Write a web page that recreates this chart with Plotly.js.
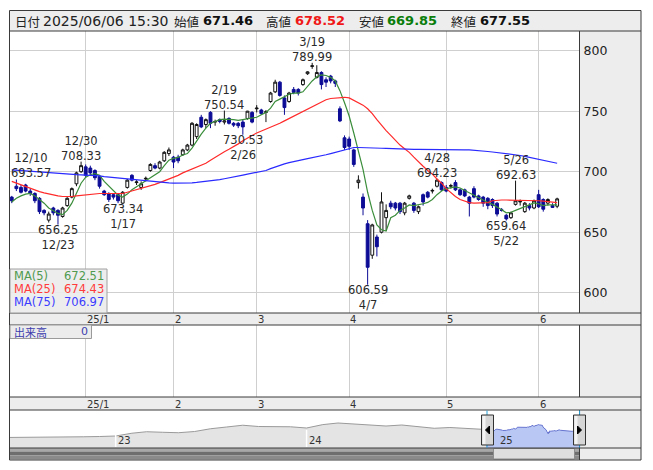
<!DOCTYPE html>
<html><head><meta charset="utf-8">
<script src="https://cdn.plot.ly/plotly-3.0.1.min.js"></script>
<style>html,body{margin:0;padding:0;background:#fff}#chart{width:653px;height:470px}</style>
</head><body><div id="chart"></div>
<script>
// ---------------- data ----------------
const dates = [
'2024-12-09','2024-12-10','2024-12-11','2024-12-12','2024-12-13','2024-12-16','2024-12-17','2024-12-18','2024-12-19','2024-12-20',
'2024-12-23','2024-12-24','2024-12-25','2024-12-26','2024-12-27','2024-12-30',
'2025-01-06','2025-01-07','2025-01-08','2025-01-09','2025-01-10','2025-01-14','2025-01-15','2025-01-16','2025-01-17','2025-01-20',
'2025-01-21','2025-01-22','2025-01-23','2025-01-24','2025-01-27','2025-01-28','2025-01-29','2025-01-30','2025-01-31',
'2025-02-03','2025-02-04','2025-02-05','2025-02-06','2025-02-07','2025-02-10','2025-02-12','2025-02-13','2025-02-14','2025-02-17',
'2025-02-18','2025-02-19','2025-02-20','2025-02-21','2025-02-25','2025-02-26','2025-02-27','2025-02-28',
'2025-03-03','2025-03-04','2025-03-05','2025-03-06','2025-03-07','2025-03-10','2025-03-11','2025-03-12','2025-03-13','2025-03-14',
'2025-03-17','2025-03-18','2025-03-19','2025-03-21','2025-03-24','2025-03-25','2025-03-26','2025-03-27','2025-03-28','2025-03-31',
'2025-04-01','2025-04-02','2025-04-03','2025-04-04','2025-04-07','2025-04-08','2025-04-09','2025-04-10','2025-04-11','2025-04-14',
'2025-04-15','2025-04-16','2025-04-17','2025-04-18','2025-04-21','2025-04-22','2025-04-23','2025-04-24','2025-04-25','2025-04-28','2025-04-30',
'2025-05-01','2025-05-02','2025-05-07','2025-05-08','2025-05-09','2025-05-12','2025-05-13','2025-05-14','2025-05-15','2025-05-16',
'2025-05-19','2025-05-20','2025-05-21','2025-05-22','2025-05-23','2025-05-26','2025-05-27','2025-05-28','2025-05-29','2025-05-30',
'2025-06-02','2025-06-03','2025-06-04','2025-06-05','2025-06-06'];

const open = [679,688,687,689,684,682,678,668,660,670, 668,663,672,679,690,700,704,703,701,696,
684,682,681,681,674,687,697,691,687,694, 701,705,703,709,715,712,712,714,718,722,
729,745,739,749,741,743,741,744,740,740, 741,744,749,752,751,749,758,766,774,761,
758,768,768,772,781,787,778,782,776,779, 775,752,728,727,718,691,679,657,631,646,
650,662,674,674,674,666,678,674,667,681, 683,684,688,691,687,688,691,685,685,679,
686,680,679,678,677,674,668.5,664,662,673, 675,667,672,670,681,677,674,672,671.46];
const high = [680,693.57,689,690,686,683,679,669,667,671, 669,671,679,687,700,708.33,706,705,702,697,
685,683,682,682,684,694,698,693,692,696, 707,707,709,717,720,713,714,719,723,741,
740,747,744,750,743,744,750.54,745,741,741, 743,750.3,750,755,752,751,766,776,775,763,
766,770,769,777,783,789.99,788,783,778,780, 776,754,730,729,719,697,682,660,657,648,
683,673,676,675,675,675,681,675,672,682, 684,686,694.23,692,689,690,693,686,686,680,
688,681,680,679,678,675,670,665,667,692.63, 677,675,674,677,685,678,678,674,678.52];
const low = [674,684,682,683,680,674,665,664,658,664, 656.25,662,671,678,688,699,695,697,693,686,
680,675,677,674,673.34,686,692,689,685,692, 700,702,702,708,713,703,707,713,717,721,
727,736,736,736,738,740,739,739,737,736, 730.53,743,740,749,747,741,757,765,762,747,
757,764,763,771,780,785,777,768,770,773, 770,741,718,718,704,686,664,606.59,628,630,
649,651,669,668,665,664,677,666,665,672, 678,682,687,684,683,686,684,680,679,663,
678,676,671,669,670,663,667,659.64,661,672, 672,666,668,669,670,667,672,670,669.85];
const close = [676,686,683,684,682,676,667,666,665,666, 664,670,678,686,699,705,697,699,695,688,
681,677,679,676,683,693,693,691.5,690,694.5, 706,703,708,716,718,708,709,718,722,740,
739,737,743,740,741.5,741.5,742,740,738.5,738, 737,750,741,752.5,748,749.5,765,774,763,753,
765,765.5,765,776,782.5,787.5,782,772,774,775, 773,742,720,721,706,693,670,621,656,638,
675,668,671,670,667,674,680,668,671,675, 679,684.5,693,685,684,688.5,685,681,680,674,
679,677,674,672,672,665,668,661,666,676, 675.5,674,670,676,671,669,677,670.5,677.55];

const ma5 = [675,678,680,681.5,682,680,677,674,670,668, 665.5,664.5,668,674,683,690.5,695.5,697.5,698.5,697,
692,688,684,680.5,679,681.5,685,687.5,690,692.5, 695,697,700,705,709.5,711,711.8,713.8,715,719.5,
725.6,731,736,740,741.5,743,743.5,743.5,743,742.5, 743,744,744,745,747,749,752.5,758,760,762,
764,765,765,766,771,775,778.5,780,779.5,778, 775,767,757,746,732,716,702,683,668,656,
652,651,662,664,668,670,672.5,672,672.5,673.5, 674.6,677,681,684,686,687,687.5,686.5,684.5,682.5,
680,678,676.5,674.5,673,671,668.5,666,666.5,668, 669.5,671,672.5,674.2,673.5,672,672.5,672.8,672.51];
const ma25 = [692,690.5,689,688,686,685,683.5,682.5,681.5,680.5, 680,679.5,679.3,679.5,680,680.5,681,681.5,682,682,
682,682,682,682,682,683,684,685,686,687, 688,689.5,691,692.5,694,695,697,699,700.5,702,
703.5,705,707,709.5,712,714,716.5,718.5,720.5,723, 725.5,728,730,732,733.5,735,736.5,738,740,742,
744,746,748,750,752,754,756,758,759.5,760.5, 761,761.5,761.5,761,759,757,755,752,748,743,
738,734,730,726,722,719,716,712,708,704.5, 701,698,694,690.5,686,682.5,679.5,677,675.5,674.5,
674,674,674,674.5,676,676.5,676.6,676.6,676.6,676.6, 676.6,676.6,676.5,676.4,676,675.7,675.3,675,674.43];
const ma75 = [701.5,701.2,700.9,700.6,700.2,699.9,699.6,699.2,698.8,698.5, 698.2,698,697.8,697.6,697.5,697.4,697.3,697.2,697,696.5,
696,695.6,695.2,694.8,694.3,693.9,693.5,693,692.6,692.2, 691.8,691.5,691.2,691,690.8,690.6,690.5,690.5,690.6,690.8,
691.1,691.5,692,692.5,693,693.5,694.2,694.8,695.5,696.3, 697.2,698,698.6,699.3,700,701,702.5,704,705.5,706.5,
707.5,708.5,709.3,710,710.8,711.5,712.2,713,714,715, 716,717.5,718.5,719.5,720,720,720,720,719.8,719.6,
719.4,719.2,719,718.9,718.8,718.7,718.6,718.5,718.5,718.4, 718.3,718.3,718.2,718.2,718.1,718.1,718,718,718,718,
717.8,717.5,717,716.7,716.3,715.9,715.5,715,714.6,714.1, 713.4,712.6,711.8,711,710.2,709.4,708.6,707.8,706.97];

const monthTicks = ['2025-01-06','2025-02-03','2025-03-03','2025-04-01','2025-05-01','2025-06-02'];
const monthLabels = ['25/1','2','3','4','5','6'];
const priceTicks = [600,650,700,750,800];

const markDates  = ['2024-12-10','2024-12-23','2024-12-30','2025-01-17','2025-02-19','2025-02-26','2025-03-19','2025-04-07','2025-04-28','2025-05-22','2025-05-26'];
const markValues = [693.57,656.25,708.33,673.34,750.54,730.53,789.99,606.59,694.23,659.64,692.63];
const markKinds  = ['high','low','high','low','high','low','high','low','high','low','high'];

const maNames = ['MA(5)','MA(25)','MA(75)'];
const maLast  = [672.51,674.43,706.97];

const infoDate = '2025/06/06 15:30';
const infoLabels = ['始値','高値','安値','終値'];
const infoValues = [671.46,678.52,669.85,677.55];
const volumeLabel = '出来高';
const volumeLast = 0;

const navDates = ['2022-06-01','2022-07-01','2022-08-01','2022-09-01','2022-10-01','2022-11-01','2022-12-01',
'2023-01-01','2023-02-01','2023-03-01','2023-04-01','2023-05-01','2023-06-01','2023-07-01','2023-08-01','2023-09-01','2023-10-01','2023-11-01','2023-12-01',
'2024-01-01','2024-02-01','2024-03-01','2024-04-01','2024-05-01','2024-06-01','2024-07-01','2024-08-01','2024-09-01','2024-10-01','2024-11-01','2024-12-01','2024-12-09'];
const navValues = [555,555,555,560,564,568,573, 582,632,659,649,641,663,712,744,776,753,753,748,
726,787,816,798,771,762,780,744,721,735,717,703,676];
const yearLabels = ['23','24','25'];
const yearStarts = ['2023-01-01','2024-01-01','2025-01-01'];

// ---------------- layout helpers ----------------
const W = 653, H = 470;
const PX = x => x / W;
const PY = y => 1 - y / H;
const FONT = 'DejaVu Sans, Verdana, sans-serif';
const JFONT = 'Noto Sans CJK JP, sans-serif';
const L = 10, R = 579.5;                 // plot left/right in px
const step = 4.622;                      // px per trading day
const i0 = 16 - (85.7 - L) / step;       // category position of left edge
const i1 = i0 + (R - L) / step;
const yTop = 31, yBot = 313;
const pxPer = 1.21;                      // px per price unit
const yMax = 800 + (50.7 - yTop) / pxPer, yMin = 800 - (yBot - 50.7) / pxPer;
const GRID = '#cfcfcf';

const traces = [];
traces.push({
  type: 'candlestick', x: dates, open: open, high: high, low: low, close: close,
  xaxis: 'x', yaxis: 'y', whiskerwidth: 0, hoverinfo: 'skip', showlegend: false,
  increasing: {line: {color: '#111', width: 1}, fillcolor: '#ffffff'},
  decreasing: {line: {color: '#0c0c96', width: 1}, fillcolor: '#0c0c96'}
});
const maColors = ['#3a8d3a', '#ff2a2a', '#2a2aff'];
[ma5, ma25, ma75].forEach((m, k) => traces.push({
  type: 'scatter', mode: 'lines', x: dates, y: m, xaxis: 'x', yaxis: 'y',
  line: {color: maColors[k], width: 1.2}, hoverinfo: 'skip', showlegend: false
}));
// volume panel placeholder (empty panel)
traces.push({type: 'scatter', mode: 'markers', x: dates, y: dates.map(() => null), xaxis: 'x2', yaxis: 'y2',
  marker: {opacity: 0}, hoverinfo: 'skip', showlegend: false});
// navigator
traces.push({type: 'scatter', mode: 'lines', x: navDates, y: navValues, xaxis: 'x3', yaxis: 'y3',
  fill: 'tozeroy', fillcolor: '#e4e4e4', line: {color: '#9a9a9a', width: 1}, hoverinfo: 'skip', showlegend: false});
traces.push({type: 'scatter', mode: 'lines', x: dates, y: close, xaxis: 'x3', yaxis: 'y3',
  fill: 'tozeroy', fillcolor: '#b9c7f4', line: {color: '#6674cf', width: 1}, hoverinfo: 'skip', showlegend: false});

// ---------------- shapes ----------------
const shapes = [];
function rect(x0, y0, x1, y1, fill, line, layer, lw) {
  shapes.push({type: 'rect', xref: 'paper', yref: 'paper', x0: PX(x0), x1: PX(x1), y0: PY(y1), y1: PY(y0),
    fillcolor: fill || 'rgba(0,0,0,0)', line: {color: line || 'rgba(0,0,0,0)', width: lw === undefined ? 1 : lw}, layer: layer || 'below'});
}
function hline(x0, x1, y, color, layer) {
  shapes.push({type: 'line', xref: 'paper', yref: 'paper', x0: PX(x0), x1: PX(x1), y0: PY(y), y1: PY(y), line: {color: color, width: 1}, layer: layer || 'above'});
}
function vline(x, y0, y1, color, layer, w) {
  shapes.push({type: 'line', xref: 'paper', yref: 'paper', x0: PX(x), x1: PX(x), y0: PY(y0), y1: PY(y1), line: {color: color, width: w || 1}, layer: layer || 'above'});
}
const PANEL = '#ededed', EDGE = '#3a3a3a';
rect(9.5, 10.5, 641, 31, PANEL, null);             // info bar
rect(R, 31, 641, 313, PANEL, null);                 // price axis panel
rect(9.5, 313, 641, 325, PANEL, null);              // date strip 1
rect(R, 325, 641, 397, PANEL, null);                // volume right panel
rect(9.5, 397, 641, 410, PANEL, null);              // date strip 2
rect(R, 410, 641, 460, PANEL, null);                // navigator right panel
// scrollbar track
rect(L, 448, R, 451.5, '#a8a8a8', null, 'above', 0);
rect(L, 451.5, R, 455.5, '#6e6e6e', null, 'above', 0);
rect(L, 455.5, R, 459.5, '#8a8a8a', null, 'above', 0);
rect(493.5, 448.5, 574.5, 459, '#dedede', '#8c8c8c', 'above', 1);
// frame lines
rect(9.5, 10.5, 641, 460, null, EDGE, 'above', 1);
[31, 313, 325, 397, 410, 448].forEach(y => hline(9.5, 641, y, EDGE));
vline(R, 31, 313, EDGE); vline(R, 325, 397, EDGE); vline(R, 410, 460, EDGE);
// navigator year separators
yearStarts.slice(0, 2).forEach(d => shapes.push({type: 'line', xref: 'x3', yref: 'paper', x0: d, x1: d,
  y0: PY(447), y1: PY(430), line: {color: '#ffffff', width: 1.5}, layer: 'above'}));
// selection lines and handles
vline(487, 410.5, 447.5, '#27a3dc'); vline(579.6, 410.5, 447.5, '#27a3dc');
function handle(x0, dir) {
  rect(x0, 415, x0 + 12, 445, '#d6d6d6', '#333', 'above', 1);
  rect(x0 + 1, 416, x0 + 4, 444, '#f4f4f4', null, 'above', 0);
  const cx = x0 + 6, cy = 430;
  const p = dir < 0
    ? `M ${PX(cx + 2)} ${PY(cy - 4)} L ${PX(cx - 2)} ${PY(cy)} L ${PX(cx + 2)} ${PY(cy + 4)} Z`
    : `M ${PX(cx - 2)} ${PY(cy - 4)} L ${PX(cx + 2)} ${PY(cy)} L ${PX(cx - 2)} ${PY(cy + 4)} Z`;
  shapes.push({type: 'path', xref: 'paper', yref: 'paper', path: p, fillcolor: '#000', line: {color: '#000', width: 1}, layer: 'above'});
}
handle(481.5, -1); handle(573.5, 1);
// MA legend box and volume label box
rect(L, 269, 107, 313, 'rgba(236,236,236,0.92)', '#a0a0a0', 'above', 1);
rect(L, 325, 91.5, 338.5, '#ececec', '#9a9a9a', 'above', 1);

// ---------------- annotations ----------------
const ann = [];
function txt(x, y, text, opt) {
  opt = opt || {};
  ann.push(Object.assign({xref: 'paper', yref: 'paper', x: PX(x), y: PY(y), text: text, showarrow: false,
    xanchor: 'left', yanchor: 'middle', font: {family: FONT, size: 12, color: '#222'}}, opt));
}
// info bar
txt(12.5, 21, '日付', {font: {family: JFONT, size: 12.5, color: '#222'}});
txt(41, 21, infoDate, {font: {family: FONT, size: 14, color: '#222'}});
const infoLX = [172, 264, 357, 449], infoVX = [200.5, 292.5, 384.5, 477.5];
const infoColors = ['#111', '#f01818', '#0a7d0a', '#111'];
infoLabels.forEach((s, k) => {
  txt(infoLX[k], 21, s, {font: {family: JFONT, size: 12.5, color: '#222'}});
  txt(infoVX[k], 20.5, '<b>' + infoValues[k].toFixed(2) + '</b>', {font: {family: FONT, size: 13, color: infoColors[k]}});
});
// date strips
monthTicks.forEach((d, k) => {
  ann.push({xref: 'x', yref: 'paper', x: d, y: PY(319.5), text: monthLabels[k], showarrow: false, xanchor: 'left', yanchor: 'middle', xshift: -1,
    font: {family: FONT, size: 10, color: '#333'}});
  ann.push({xref: 'x2', yref: 'paper', x: d, y: PY(404), text: monthLabels[k], showarrow: false, xanchor: 'left', yanchor: 'middle', xshift: -1,
    font: {family: FONT, size: 10, color: '#333'}});
});
// navigator year labels
yearStarts.forEach((d, k) => ann.push({xref: 'x3', yref: 'paper', x: d, y: PY(440.5), text: yearLabels[k], showarrow: false,
  xanchor: 'left', yanchor: 'middle', font: {family: FONT, size: 10, color: '#333'}}));
// high / low marks (one two-line text each)
markDates.forEach((d, k) => {
  const idx = dates.indexOf(d);
  const cx = L + (idx - i0) * step;
  const vs = markValues[k].toFixed(2);
  const half = vs.length * 7.0 / 2;
  const xs = Math.max(0, L + 0.5 + half - cx);
  const md = d.split('-'); const ds = (+md[1]) + '/' + (+md[2]);
  const f = {family: FONT, size: 11.5, color: '#2a2a2a'};
  if (markKinds[k] === 'high') {
    ann.push({xref: 'x', yref: 'y', x: d, y: markValues[k], text: ds + '<br>' + vs, showarrow: false, xanchor: 'center', yanchor: 'bottom',
      yshift: -2, xshift: xs, borderpad: 0, font: f});
  } else {
    ann.push({xref: 'x', yref: 'y', x: d, y: markValues[k], text: vs + '<br>' + ds, showarrow: false, xanchor: 'center', yanchor: 'top',
      yshift: 3, xshift: xs, borderpad: 0, font: f});
  }
});
// MA legend text
const maTextColors = ['#4f9a4f', '#ff3b3b', '#3b3bff'];
maNames.forEach((s, k) => {
  txt(11.5, 276 + k * 13, s, {font: {family: FONT, size: 11.5, color: maTextColors[k]}});
  txt(105.5, 276 + k * 13, maLast[k].toFixed(2), {xanchor: 'right', font: {family: FONT, size: 11.5, color: maTextColors[k]}});
});
// volume label
txt(11.5, 331.5, volumeLabel, {font: {family: JFONT, size: 11, color: '#3c3cae'}});
txt(90, 331.5, String(volumeLast), {xanchor: 'right', font: {family: FONT, size: 11, color: '#3c3cae'}});

// ---------------- layout ----------------
const layout = {
  width: W, height: H, margin: {l: 0, r: 0, t: 0, b: 0, pad: 0},
  paper_bgcolor: '#ffffff', plot_bgcolor: 'rgba(0,0,0,0)', showlegend: false, dragmode: false,
  boxgap: 0.12,
  xaxis: {domain: [PX(L), PX(R)], anchor: 'y', type: 'category', categoryorder: 'array', categoryarray: dates,
    range: [i0, i1], tickvals: monthTicks, showticklabels: false, ticks: '', showgrid: true, gridcolor: GRID, gridwidth: 1,
    zeroline: false, showline: false, rangeslider: {visible: false}, fixedrange: true},
  yaxis: {domain: [PY(yBot), PY(yTop)], anchor: 'x', side: 'right', range: [yMin, yMax], tickvals: priceTicks,
    ticks: '', ticklabelstandoff: 3, showgrid: true, gridcolor: GRID, gridwidth: 1, zeroline: false, showline: false,
    tickfont: {family: FONT, size: 12.5, color: '#222'}, fixedrange: true},
  xaxis2: {domain: [PX(L), PX(R)], anchor: 'y2', matches: 'x', type: 'category', tickvals: monthTicks, showticklabels: false,
    ticks: '', showgrid: true, gridcolor: GRID, zeroline: false, showline: false, fixedrange: true},
  yaxis2: {domain: [PY(397), PY(325)], anchor: 'x2', range: [0, 1], showgrid: false, showticklabels: false, zeroline: false, ticks: '', fixedrange: true},
  xaxis3: {domain: [PX(L), PX(579.6)], anchor: 'y3', type: 'date', range: ['2022-06-13', '2025-06-06'], showgrid: false,
    showticklabels: false, ticks: '', zeroline: false, showline: false, fixedrange: true},
  yaxis3: {domain: [PY(448), PY(410)], anchor: 'x3', range: [366, 1050], showgrid: false, showticklabels: false, ticks: '', zeroline: false, fixedrange: true},
  shapes: shapes, annotations: ann
};
Plotly.newPlot('chart', traces, layout, {staticPlot: true, displayModeBar: false});
</script></body></html>
